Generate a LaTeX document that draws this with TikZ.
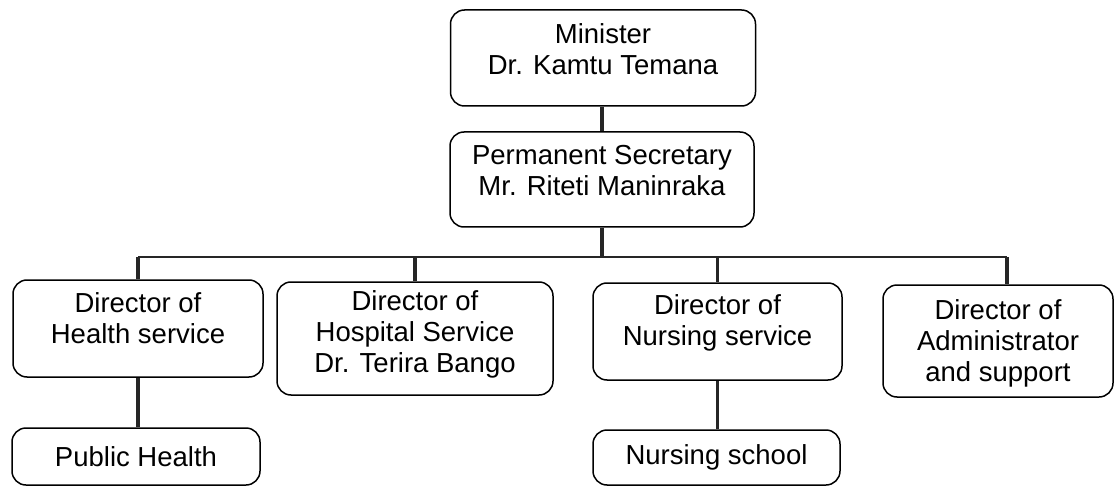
\documentclass[tikz,border=0pt]{standalone}
\usepackage{fontspec}
\setmainfont{Liberation Sans}
\begin{document}
\begin{tikzpicture}[x=1pt,y=-1pt,
  box/.style={draw=black, line width=1.5pt, rounded corners=14pt, inner sep=0pt},
  txt/.style={align=center, inner sep=0pt, font=\fontsize{27.5}{31}\selectfont},
  conn/.style={draw=black!85, line width=3.2pt}]
\useasboundingbox (0,0) rectangle (1115,486);
% boxes
\node[box, minimum width=305pt, minimum height=96pt] (min) at (603,58) {};
\node[box, minimum width=304pt, minimum height=95pt] (ps) at (602,179.5) {};
\node[box, minimum width=250pt, minimum height=97pt] (health) at (138,328.5) {};
\node[box, minimum width=276pt, minimum height=113pt] (hosp) at (415,338.5) {};
\node[box, minimum width=249pt, minimum height=97pt] (nurse) at (717.5,331.5) {};
\node[box, minimum width=230pt, minimum height=112pt] (admin) at (998,341) {};
\node[box, minimum width=248pt, minimum height=57pt] (pub) at (136,456.5) {};
\node[box, minimum width=247pt, minimum height=55pt] (school) at (716.5,457.5) {};
% texts
\node[txt] (min-t) at (603,49.5) {Minister\\Dr. Kamtu Temana};
\node[txt] (ps-t) at (602,170.5) {Permanent Secretary\\Mr. Riteti Maninraka};
\node[txt] (health-t) at (138,318.5) {Director of\\Health service};
\node[txt] (hosp-t) at (415,334.5) {Director of\\Hospital Service\\Dr. Terira Bango};
\node[txt] (nurse-t) at (717.5,323) {Director of\\Nursing service};
\node[txt] (admin-t) at (998,343.5) {Director of\\Administrator\\and support};
\node[txt] (pub-t) at (136,456.5) {Public Health};
\node[txt] (school-t) at (716.5,457) {Nursing school};
% connectors
\coordinate (busL) at (138,257);
\coordinate (busR) at (1007,257);
\draw[conn] (ps.north |- min.south) -- (ps.north);
\draw[conn] (ps.south) -- (ps.south |- busL);
\draw[conn, line width=2.6pt] (busL) -- (busR);
\draw[conn] (busL) -- (busL |- health.north);
\draw[conn] (hosp.north |- busL) -- (hosp.north);
\draw[conn] (nurse.north |- busL) -- (nurse.north);
\draw[conn] (busR) -- (busR |- admin.north);
\draw[conn] (health.south) -- (health.south |- pub.north);
\draw[conn] (nurse.south) -- (nurse.south |- school.north);
\end{tikzpicture}
\end{document}
